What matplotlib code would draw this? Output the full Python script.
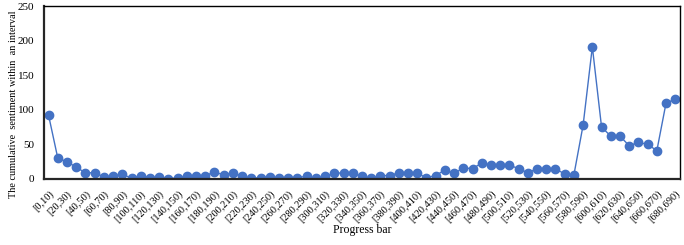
import matplotlib
matplotlib.use("Agg")
import matplotlib.pyplot as plt
import numpy as np

# progress intervals [0,10) ... [680,690)
starts = list(range(0, 690, 10))
interval_labels = ['[%d,%d)' % (s, s + 10) for s in starts]

sentiment = [92, 30, 25, 17, 9, 9, 3, 4, 7, 1,
             5, 2, 3, 0, 2, 4, 4, 5, 10, 6,
             9, 4, 1, 2, 3, 1, 2, 2, 4, 1,
             4, 8, 9, 8, 4, 1, 5, 5, 9, 8,
             8, 2, 5, 13, 8, 16, 15, 23, 20, 20,
             20, 15, 9, 15, 15, 15, 7, 6, 78, 191,
             75, 62, 62, 48, 53, 50, 41, 110, 115]

plt.rcParams['font.family'] = ['Liberation Serif', 'DejaVu Serif']

fig = plt.figure(figsize=(6.84, 2.45), dpi=100)
ax = fig.add_axes([0.0643, 0.2694, 0.9297, 0.7061])

x = np.arange(len(sentiment))
ax.plot(x, sentiment, color='#4472C4', lw=1.0, marker='o', markersize=6,
        markerfacecolor='#4472C4', markeredgecolor='#4472C4')

ax.set_xlim(-0.5, len(sentiment) - 0.5)
ax.set_ylim(0, 250)
ax.set_yticks(range(0, 251, 50))
ax.set_xticks(x[::2])
ax.set_xticklabels(interval_labels[::2], rotation=45, ha='right',
                   rotation_mode='anchor', fontsize=7.5)
ax.tick_params(axis='y', labelsize=8, length=0, pad=7)
ax.tick_params(axis='x', length=0, pad=7)

for side in ['left', 'bottom']:
    ax.spines[side].set_linewidth(1.6)
    ax.spines[side].set_color('#262626')
for side in ['top', 'right']:
    ax.spines[side].set_linewidth(1.0)
    ax.spines[side].set_color('#000000')

ax.set_ylabel('The cumulative  sentiment within  an interval', fontsize=7.4)
ax.yaxis.set_label_coords(-0.041, 0.43)
ax.set_xlabel('Progress bar', fontsize=8.5, labelpad=0)

fig.savefig('out.png', dpi=100)
